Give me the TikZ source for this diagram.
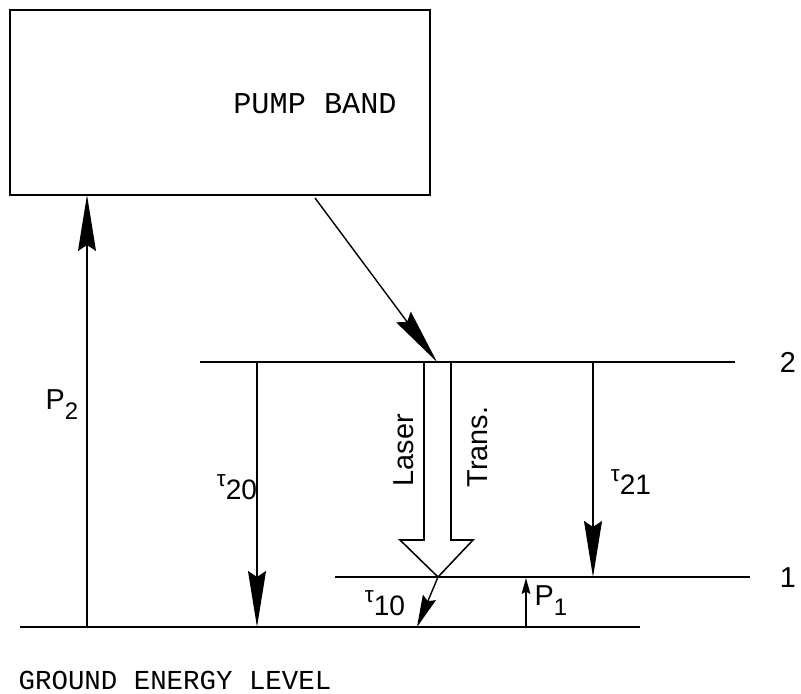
\documentclass[tikz,border=0pt]{standalone}
\usepackage{fontspec}
\setmainfont{Liberation Sans}
\setmonofont{Liberation Mono}
\usepackage{tikz}
\usetikzlibrary{arrows.meta}

\newcommand{\taulbl}[1]{\raisebox{.45em}{\fontsize{16}{16}\selectfont τ}\fontsize{20}{22}\selectfont #1}
\newcommand{\psub}[1]{P\raisebox{-.35em}{\fontsize{17}{17}\selectfont #1}}

\begin{document}
\begin{tikzpicture}[x=0.025cm,y=-0.025cm,
    level/.style={line width=1.2pt},
    lbl/.style={inner sep=0pt,font=\fontsize{20.5}{22}\selectfont},
    caps/.style={inner sep=0pt,font=\ttfamily\fontsize{19.5}{22}\selectfont},
    >={Stealth[length=14mm,width=4.5mm,inset=1.5mm]},
    bigarrow/.style={->,line width=1pt},
    smallarrow/.style={-{Stealth[length=4mm,width=2.2mm,inset=0.6mm]},line width=1pt}]
\useasboundingbox (0,0) rectangle (801,694);

% pump band
\node[draw,line width=1.2pt,minimum width=10.5cm,minimum height=4.625cm,inner sep=0pt] (pump) at (220,102.5) {};
\node[caps,font=\ttfamily\fontsize{21.5}{22}\selectfont] (pumptxt) at (315,104) {PUMP BAND};

% energy levels
\coordinate (g0) at (20,627);
\coordinate (g1) at (640,627);
\coordinate (a0) at (335,577);
\coordinate (a1) at (750,577);
\coordinate (b0) at (200,362);
\coordinate (b1) at (735,362);
\draw[level] (g0) -- (g1);
\draw[level] (a0) -- (a1);
\draw[level] (b0) -- (b1);
\node[lbl] (two) at (788,362) {2};
\node[lbl] (one) at (788,578) {1};
\node[caps] (ground) at (175,680) {GROUND ENERGY LEVEL};

% transitions
\coordinate (ptop) at (87,195);
\coordinate (pbot) at (87,627);
\coordinate (pstart) at (315,198);
\coordinate (lasertop) at (437,362);
\coordinate (lasertip) at (438,577);
\coordinate (t10end) at (417,627);
\draw[bigarrow] (pbot) -- (ptop);
\draw[bigarrow] (pstart) -- (lasertop);
\draw[bigarrow] (257,362) coordinate (t20a) -- (257,627) coordinate (t20b);
\draw[bigarrow] (593,362) coordinate (t21a) -- (593,577) coordinate (t21b);
\draw[->,line width=1pt,>={Stealth[length=8mm,width=3.5mm,inset=1mm]}] (lasertip) -- (t10end);
\draw[smallarrow] (526,627) coordinate (p1a) -- (526,578) coordinate (p1b);

% hollow laser arrow
\draw[line width=1.1pt,fill=white] (424,362) -- (424,540) -- (400,540) -- (lasertip)
    -- (473,540) -- (451,540) -- (451,362);
\draw[level] (b0) -- (b1);

\node[lbl] (ptwo) at (62,405) {\psub{2}};
\node[lbl] (pone) at (551,601) {\psub{1}};
\node[lbl] (t20) at (237,487) {\taulbl{20}};
\node[lbl] (t21) at (631,482) {\taulbl{21}};
\node[lbl] (t10) at (385,603) {\taulbl{10}};
\node[lbl,rotate=90] (laser) at (404,450) {Laser};
\node[lbl,rotate=90] (trans) at (478,447) {Trans.};
\end{tikzpicture}
\end{document}
